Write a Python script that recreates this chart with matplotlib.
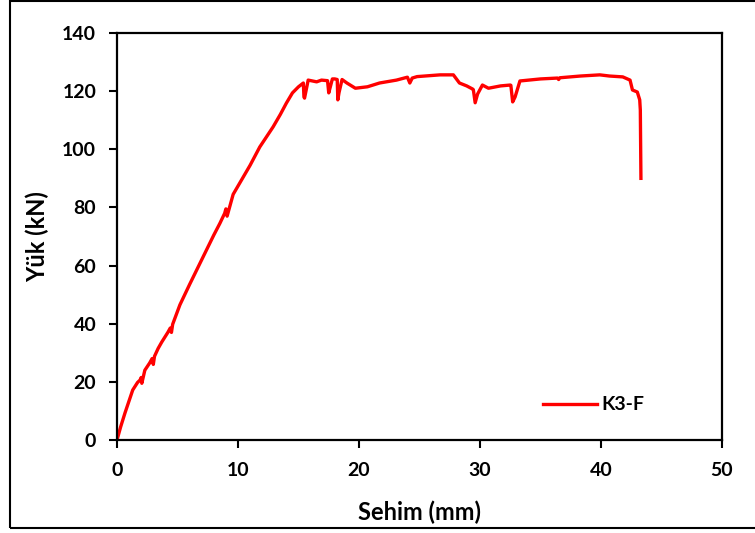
import matplotlib
matplotlib.use("Agg")
import matplotlib.pyplot as plt
from matplotlib.patches import Rectangle

# Data (Sehim mm, Yük kN)
sehim = [0.0, 0.3, 0.66, 1.0, 1.3, 1.7, 1.9, 2.0, 2.05, 2.3, 2.7, 2.9, 3.0, 3.1, 3.4, 3.7,
         4.2, 4.4, 4.5, 4.6, 5.2, 6.0, 7.0, 8.0, 8.5, 8.9, 9.0, 9.1, 9.6, 10.3, 11.0, 11.8, 12.9,
         13.5, 14.0, 14.5, 15.0, 15.4, 15.45, 15.5, 15.8, 16.5, 16.9, 17.4, 17.5, 17.6, 17.8,
         18.0, 18.2, 18.25, 18.35, 18.6, 19.0, 19.7, 20.7, 21.7, 23.1, 24.0, 24.2, 24.4, 24.8,
         26.7, 27.8, 28.3, 28.9, 29.4, 29.45, 29.6, 29.8, 30.2, 30.7, 31.7, 32.5, 32.55, 32.7,
         32.9, 33.3, 35.0, 36.4, 36.5, 36.6, 38.3, 39.9, 40.7, 41.8, 42.4, 42.6, 43.0, 43.2, 43.25, 43.3]
yuk = [0.0, 4.5, 9.3, 13.5, 17.2, 19.8, 20.6, 21.5, 19.5, 24.0, 26.5, 28.0, 26.0, 28.8, 31.5, 33.7,
       37.0, 38.5, 37.0, 39.8, 46.5, 53.5, 62.0, 70.5, 74.5, 78.0, 79.5, 77.0, 84.5, 89.5, 94.5, 100.8, 107.7,
       112.0, 115.9, 119.4, 121.5, 122.8, 118.0, 117.6, 123.8, 123.2, 123.8, 123.6, 119.4, 121.0, 124.2,
       124.2, 124.0, 117.0, 119.5, 124.0, 122.8, 121.0, 121.5, 122.8, 123.8, 124.8, 122.8, 124.5, 125.0,
       125.6, 125.6, 122.8, 121.8, 120.7, 120.5, 116.0, 119.0, 122.1, 121.0, 121.8, 122.1, 122.0, 116.3,
       118.0, 123.5, 124.2, 124.5, 124.0, 124.6, 125.2, 125.6, 125.2, 124.9, 123.8, 120.4, 119.7, 117.0, 113.5, 90.0]

series_label = "K3-F"
x_ticks = [0, 10, 20, 30, 40, 50]
y_ticks = [0, 20, 40, 60, 80, 100, 120, 140]

font = ["Lato", "DejaVu Sans"]
plt.rcParams["font.family"] = font
plt.rcParams["font.weight"] = "bold"

fig = plt.figure(figsize=(7.55, 5.33), dpi=100)
ax = fig.add_axes([117 / 755, 93 / 533, 605 / 755, 407 / 533])

ax.plot(sehim, yuk, color="#ff0000", lw=2.4, label=series_label, solid_joinstyle="round")

ax.set_xlim(0, 50)
ax.set_ylim(0, 140)
ax.set_xticks(x_ticks)
ax.set_yticks(y_ticks)
ax.tick_params(direction="out", length=6, width=1.5, labelsize=14, colors="black")
ax.tick_params(axis="x", pad=10)
ax.tick_params(axis="y", pad=9)
for lab in ax.get_xticklabels() + ax.get_yticklabels():
    lab.set_fontweight("bold")
for sp in ax.spines.values():
    sp.set_linewidth(1.6)
    sp.set_color("black")

ax.set_xlabel("Sehim (mm)", fontsize=17, fontweight="bold", labelpad=15)
ax.set_ylabel("Yük (kN)", fontsize=17, fontweight="bold", labelpad=9)

leg = ax.legend(loc="center left", bbox_to_anchor=(0.675, 0.086), frameon=False,
                handlelength=2.8, prop={"size": 14, "weight": "bold"}, handletextpad=0.2)

# figure border
fig.patches.append(Rectangle((10 / 755, 5 / 533), 1.0, 527 / 533, transform=fig.transFigure,
                             fill=False, edgecolor="black", lw=1.5))

fig.savefig("out.png", dpi=100)
